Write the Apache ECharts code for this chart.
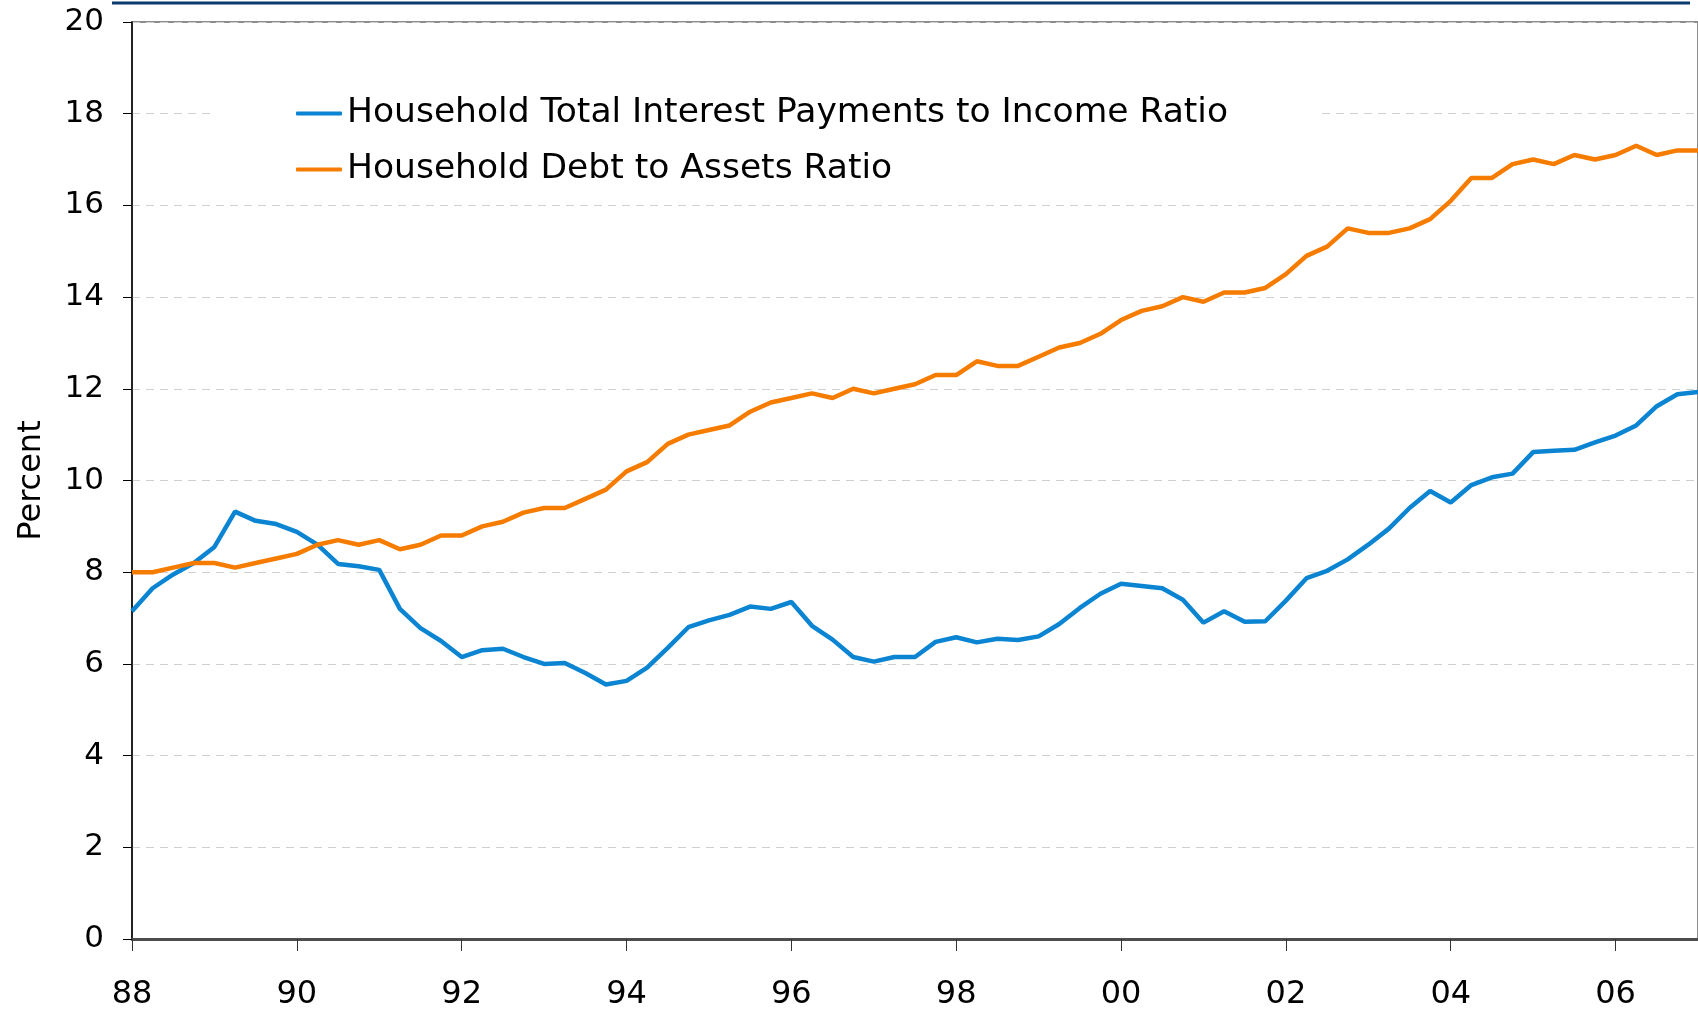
<!DOCTYPE html>
<html>
<head>
<meta charset="utf-8">
<script src="https://cdn.jsdelivr.net/npm/echarts@6/dist/echarts.min.js"></script>
<style>
  html, body { margin: 0; padding: 0; background: #fff; }
  #chart { width: 1698px; height: 1011px; }
</style>
</head>
<body>
<div id="chart"></div>
<script>
// quarterly, 1988Q1 .. 2007Q1
var quarters = [];
for (var yr = 1988; yr <= 2007; yr++) {
  for (var q = 1; q <= 4; q++) {
    quarters.push(yr + 'Q' + q);
  }
}
quarters = quarters.slice(0, 77);

var tickLabels = ['88', '90', '92', '94', '96', '98', '00', '02', '04', '06'];

var interestToIncome = [
  7.15, 7.65, 7.95, 8.2, 8.55, 9.32, 9.12, 9.05, 8.88, 8.6,
  8.18, 8.13, 8.05, 7.2, 6.78, 6.5, 6.15, 6.3, 6.33, 6.15,
  6.0, 6.02, 5.8, 5.55, 5.63, 5.92, 6.35, 6.8, 6.95, 7.07,
  7.25, 7.2, 7.35, 6.83, 6.53, 6.15, 6.05, 6.15, 6.15, 6.48,
  6.58, 6.47, 6.55, 6.52, 6.6, 6.87, 7.22, 7.53, 7.75, 7.7,
  7.65, 7.4, 6.9, 7.15, 6.92, 6.93, 7.38, 7.87, 8.03, 8.28,
  8.6, 8.95, 9.4, 9.77, 9.52, 9.9, 10.07, 10.15, 10.62, 10.65,
  10.67, 10.83, 10.98, 11.2, 11.62, 11.88, 11.93
];

var debtToAssets = [
  8.0, 8.0, 8.1, 8.2, 8.2, 8.1, 8.2, 8.3, 8.4, 8.6,
  8.7, 8.6, 8.7, 8.5, 8.6, 8.8, 8.8, 9.0, 9.1, 9.3,
  9.4, 9.4, 9.6, 9.8, 10.2, 10.4, 10.8, 11.0, 11.1, 11.2,
  11.5, 11.7, 11.8, 11.9, 11.8, 12.0, 11.9, 12.0, 12.1, 12.3,
  12.3, 12.6, 12.5, 12.5, 12.7, 12.9, 13.0, 13.2, 13.5, 13.7,
  13.8, 14.0, 13.9, 14.1, 14.1, 14.2, 14.5, 14.9, 15.1, 15.5,
  15.4, 15.4, 15.5, 15.7, 16.1, 16.6, 16.6, 16.9, 17.0, 16.9,
  17.1, 17.0, 17.1, 17.3, 17.1, 17.2, 17.2
];

var fontName = 'DejaVu Sans';

var myChart = echarts.init(document.getElementById('chart'));
var option = {
  animation: false,
  backgroundColor: '#fff',
  textStyle: { fontFamily: fontName },
  grid: {
    left: 132, top: 22, right: 0, bottom: 69,
    show: true, borderColor: '#8c8c8c', borderWidth: 2
  },
  graphic: [{
    type: 'line',
    shape: { x1: 112, y1: 3, x2: 1690, y2: 3 },
    style: { stroke: '#0b3a6e', lineWidth: 3 }
  }],
  legend: {
    orient: 'vertical',
    left: 211,
    top: 76,
    backgroundColor: '#fff',
    padding: [20, 90, 6, 85],
    itemGap: 21,
    itemWidth: 46,
    itemHeight: 4,
    icon: 'roundRect',
    textStyle: { fontFamily: fontName, fontSize: 34.5, color: '#000' },
    data: [
      'Household Total Interest Payments to Income Ratio',
      'Household Debt to Assets Ratio'
    ]
  },
  xAxis: {
    type: 'category',
    boundaryGap: false,
    data: quarters,
    axisLine: { lineStyle: { color: '#4d4d4d', width: 3 } },
    axisTick: {
      length: 12,
      interval: function (index) { return index % 8 === 0; },
      lineStyle: { color: '#333', width: 1 }
    },
    axisLabel: {
      interval: function (index) { return index % 8 === 0; },
      formatter: function (value, index) { return tickLabels[index / 8]; },
      margin: 40,
      fontFamily: fontName,
      fontSize: 32,
      color: '#000'
    },
    splitLine: { show: false }
  },
  yAxis: {
    type: 'value',
    min: 0,
    max: 20,
    interval: 2,
    name: 'Percent',
    nameLocation: 'middle',
    nameGap: 84,
    nameTextStyle: { fontFamily: fontName, fontSize: 32, color: '#000' },
    axisLine: { show: true, lineStyle: { color: '#000', width: 1.5 } },
    axisTick: { show: true, length: 9, lineStyle: { color: '#000' } },
    axisLabel: { margin: 28, fontFamily: fontName, fontSize: 31, color: '#000' },
    splitLine: { lineStyle: { color: '#d0d0d0', type: [8, 6], width: 1 } }
  },
  series: [
    {
      name: 'Household Total Interest Payments to Income Ratio',
      type: 'line',
      data: interestToIncome,
      symbol: 'none',
      z: 3,
      lineStyle: { color: '#0b84d2', width: 4.5 },
      itemStyle: { color: '#0b84d2' }
    },
    {
      name: 'Household Debt to Assets Ratio',
      type: 'line',
      data: debtToAssets,
      symbol: 'none',
      lineStyle: { color: '#f67c00', width: 4.5 },
      itemStyle: { color: '#f67c00' }
    }
  ]
};
myChart.setOption(option);
</script>
</body>
</html>
